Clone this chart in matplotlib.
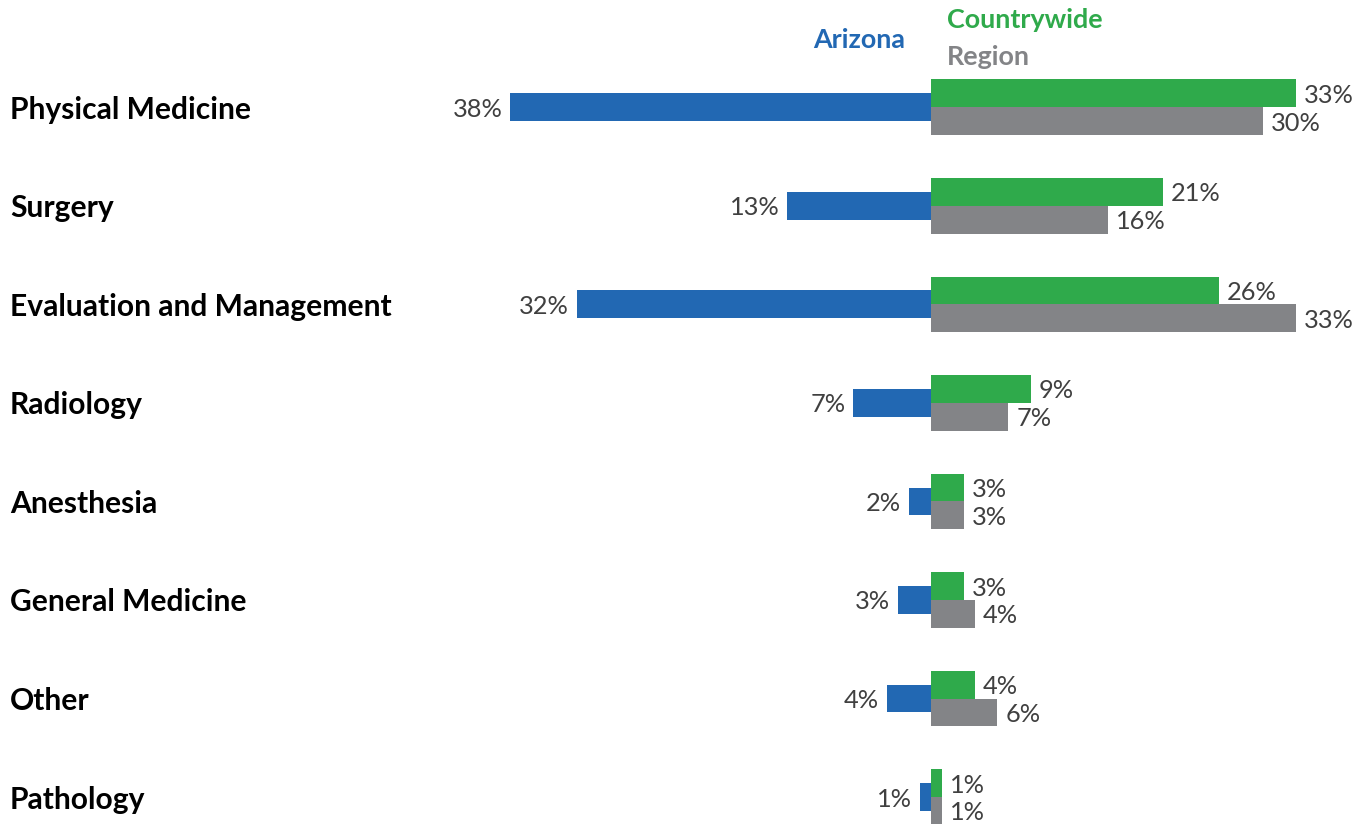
import matplotlib.pyplot as plt
import numpy as np

categories = ["Physical Medicine", "Surgery", "Evaluation and Management", "Radiology",
              "Anesthesia", "General Medicine", "Other", "Pathology"]
arizona = [38, 13, 32, 7, 2, 3, 4, 1]
countrywide = [33, 21, 26, 9, 3, 3, 4, 1]
region = [30, 16, 33, 7, 3, 4, 6, 1]

blue = "#2268b3"
green = "#2faa4b"
gray = "#838487"
txt = "#404040"

plt.rcParams['font.family'] = ['Lato', 'DejaVu Sans']

fig = plt.figure(figsize=(13.72, 8.24), dpi=100)
ax = fig.add_axes([0, 0, 1, 1])

y = np.arange(len(categories))
h = 0.284

ax.barh(y, [-v for v in arizona], height=h, color=blue, linewidth=0)
ax.barh(y - h / 2, countrywide, height=h, color=green, linewidth=0)
ax.barh(y + h / 2, region, height=h, color=gray, linewidth=0)

for i in range(len(categories)):
    ax.text(-arizona[i] - 0.7, y[i], f"{arizona[i]}%", ha="right", va="center_baseline",
            fontsize=18.3, color=txt)
    ax.text(countrywide[i] + 0.7, y[i] - h / 2, f"{countrywide[i]}%", ha="left",
            va="center_baseline", fontsize=18.3, color=txt)
    ax.text(region[i] + 0.7, y[i] + h / 2, f"{region[i]}%", ha="left",
            va="center_baseline", fontsize=18.3, color=txt)
    ax.text(-83.2, y[i], categories[i], ha="left", va="center_baseline", fontsize=21.6,
            fontweight="bold", color="black")

# legend as coloured series names above the bars
ax.text(905 / 1372, 1 - 38 / 824, "Arizona", transform=ax.transAxes, ha="right",
        va="center_baseline", fontsize=19.4, fontweight="bold", color=blue)
ax.text(947 / 1372, 1 - 18 / 824, "Countrywide", transform=ax.transAxes, ha="left",
        va="center_baseline", fontsize=19.4, fontweight="bold", color=green)
ax.text(947 / 1372, 1 - 55 / 824, "Region", transform=ax.transAxes, ha="left",
        va="center_baseline", fontsize=19.4, fontweight="bold", color=gray)

ax.set_xlim(-84.1, 39.84)
ax.set_ylim(7.274, -1.091)
ax.axis("off")

fig.savefig("out.png", dpi=100)
